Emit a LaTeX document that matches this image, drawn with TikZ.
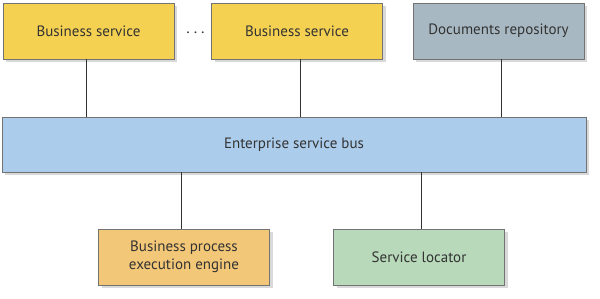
\documentclass[tikz,border=0pt]{standalone}
\usepackage{fontspec}
\setmainfont{PT Sans}
\usetikzlibrary{positioning,shadows}
\definecolor{mustard}{rgb}{0.96,0.82,0.32}
\definecolor{slategray}{rgb}{0.66,0.72,0.76}
\definecolor{busblue}{rgb}{0.67,0.80,0.92}
\definecolor{peach}{rgb}{0.95,0.78,0.47}
\definecolor{sage}{rgb}{0.72,0.85,0.73}
\definecolor{textgray}{rgb}{0.2,0.2,0.2}
\tikzset{
  caja/.style={
    draw=black!55,
    line width=0.8pt,
    align=center,
    minimum width=171pt,
    minimum height=56pt,
    inner sep=4pt,
    text=textgray,
    font=\fontsize{15}{18}\selectfont,
    drop shadow={shadow xshift=3pt,shadow yshift=-3pt,opacity=0.25,fill=black!60}
  },
  enlace/.style={
    draw=black!80,
    line width=0.7pt
  }
}
\begin{document}
\begin{tikzpicture}[x=1pt,y=-1pt]
\useasboundingbox (0,0) rectangle (600,299);
\node[caja, fill=mustard] (bs1) at (88.5,31) {Business service};
\node[caja, fill=mustard] (bs2) at (297,31) {Business service};
\node[caja, fill=slategray] (docs) at (498.5,31) {Documents repository};
\node[caja, fill=busblue, minimum width=584pt, minimum height=55pt] (esb) at (294,144.5) {Enterprise service bus};
\node[caja, fill=peach] (bpee) at (184,257) {Business process\\execution engine};
\node[caja, fill=sage] (loc) at (419,257) {Service locator};
\node[text=textgray, font=\fontsize{16}{18}\selectfont] (dots) at (195.5,33) {.\hspace{4pt}.\hspace{4pt}.};
\draw[enlace] ([xshift=-2.5pt]bs1.south) -- ([xshift=-2.5pt]bs1.south |- esb.north);
\draw[enlace] ([xshift=3pt]bs2.south) -- ([xshift=3pt]bs2.south |- esb.north);
\draw[enlace] ([xshift=3pt]docs.south) -- ([xshift=3pt]docs.south |- esb.north);
\draw[enlace] ([xshift=-3pt]bpee.north) -- ([xshift=-3pt]bpee.north |- esb.south);
\draw[enlace] ([xshift=2pt]loc.north) -- ([xshift=2pt]loc.north |- esb.south);
\end{tikzpicture}
\end{document}
